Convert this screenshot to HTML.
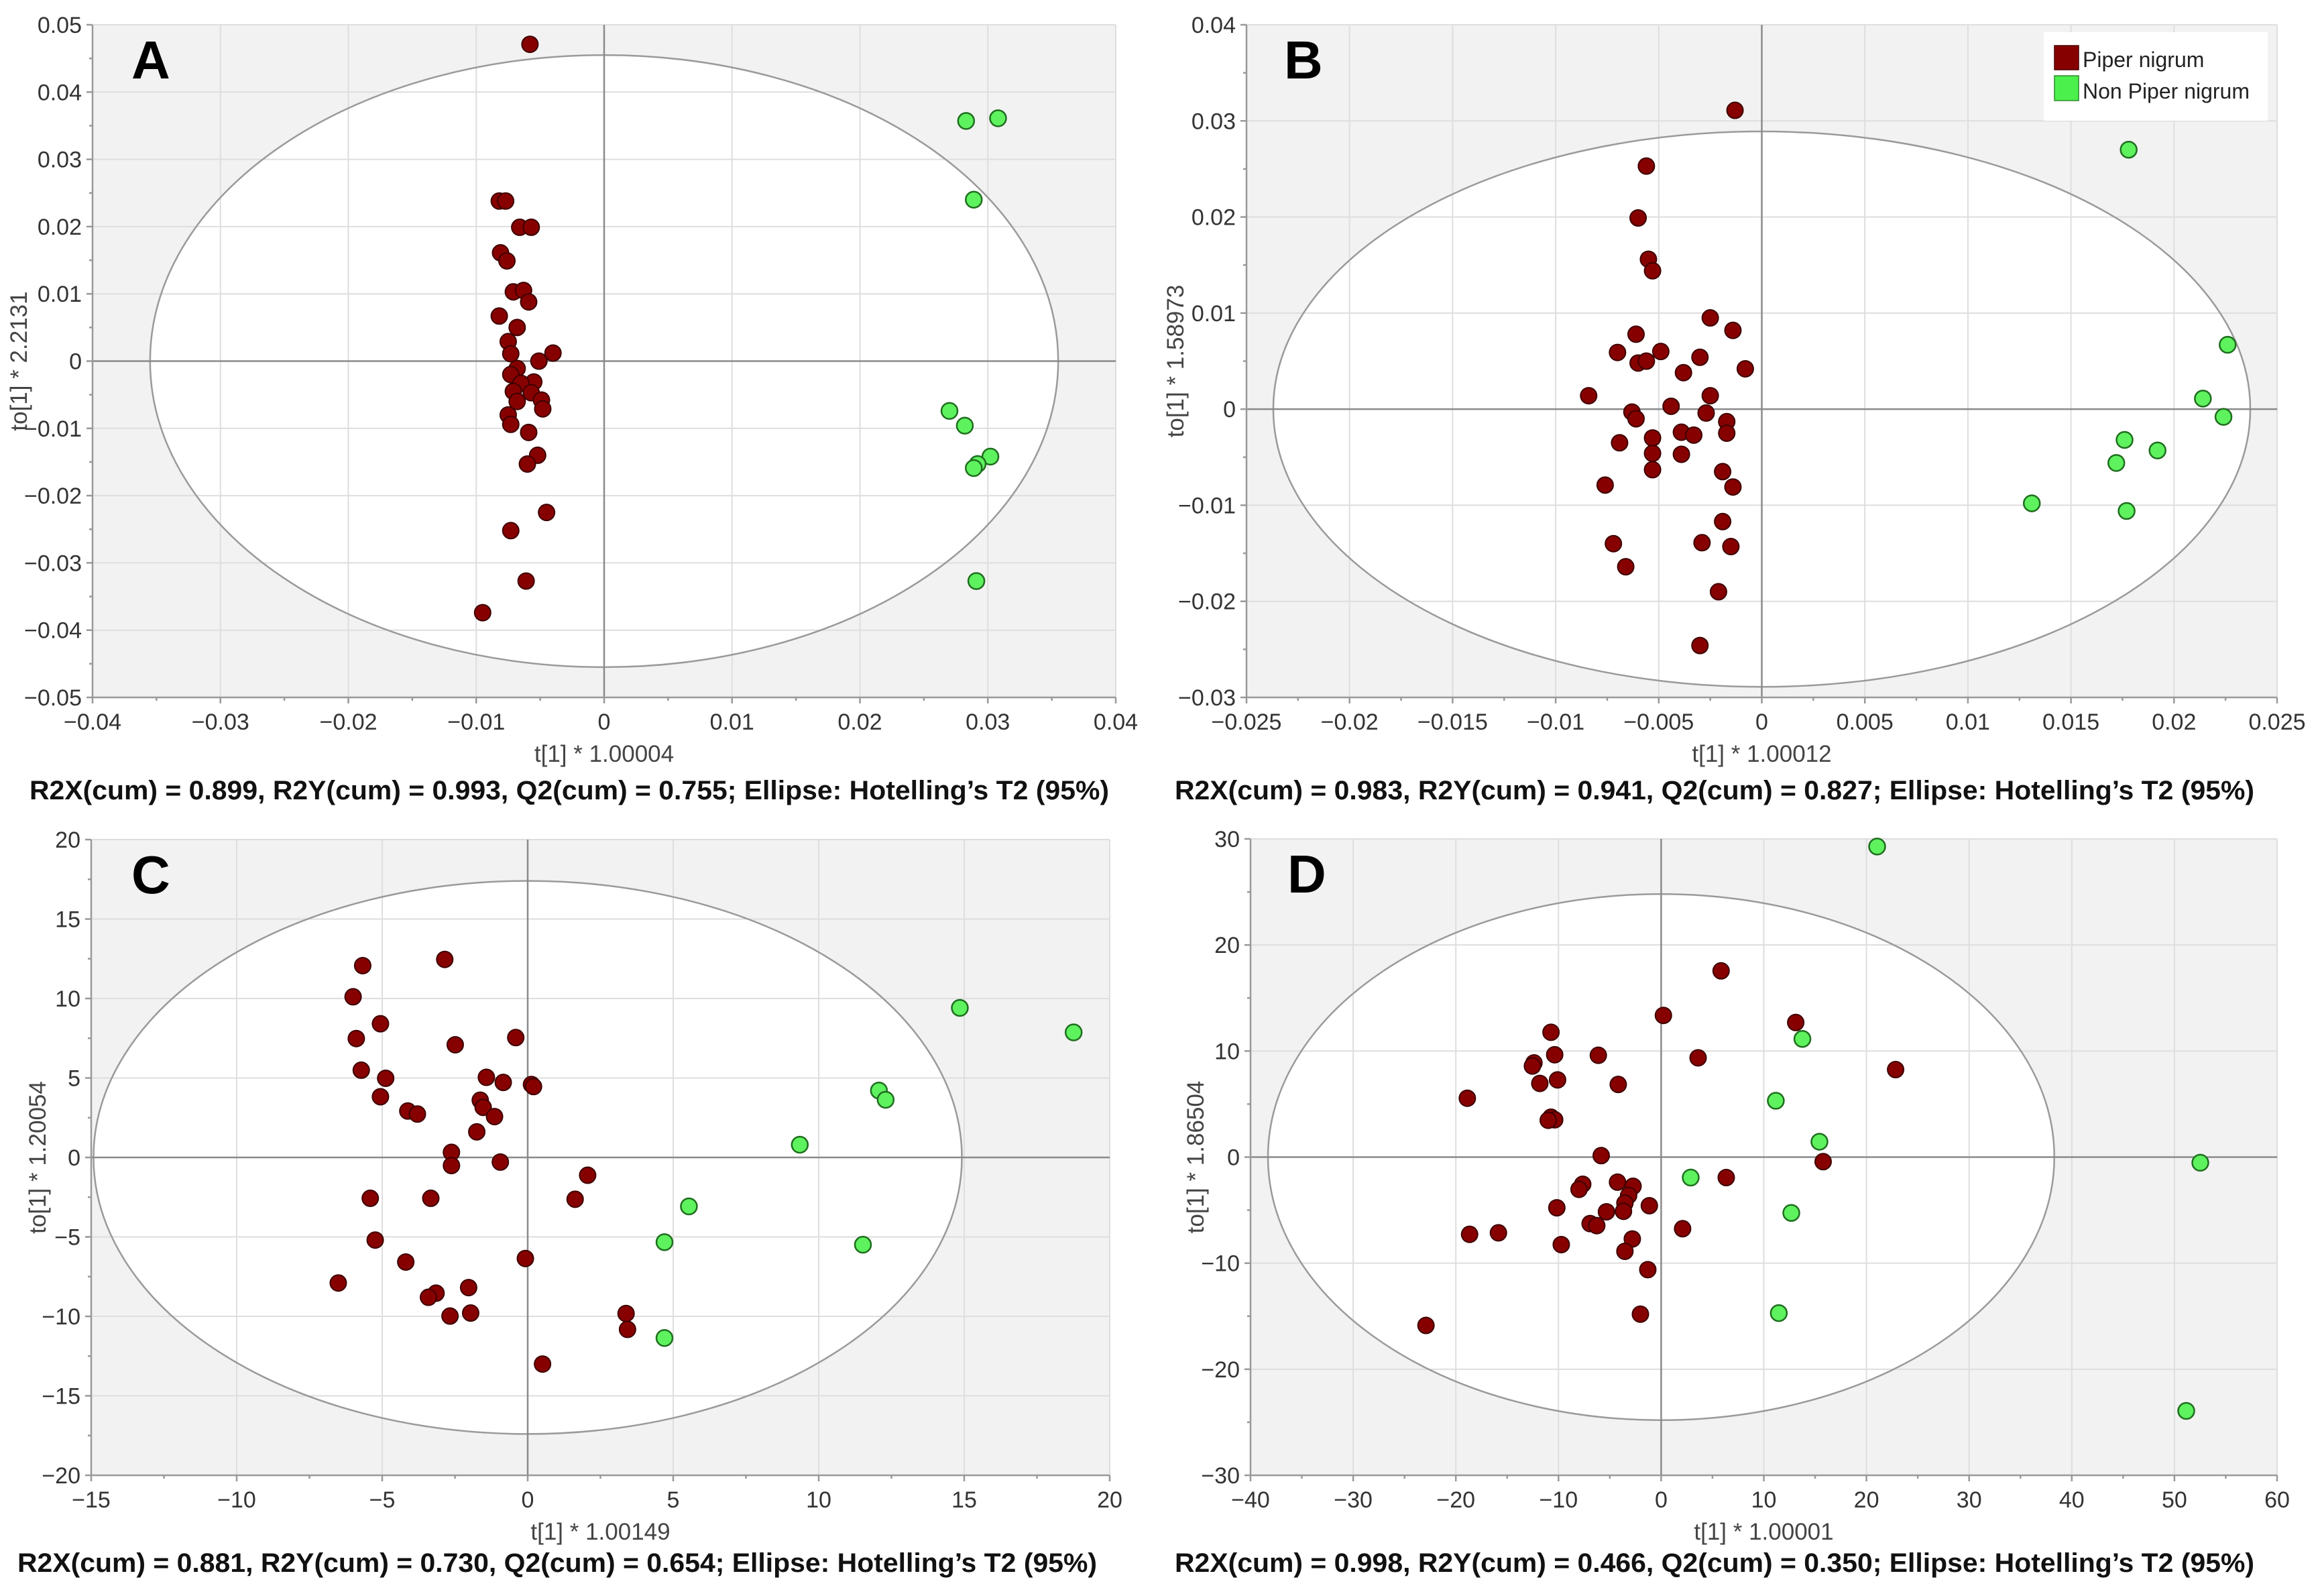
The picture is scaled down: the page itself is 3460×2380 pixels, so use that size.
<!DOCTYPE html>
<html><head><meta charset="utf-8"><style>
html,body{margin:0;padding:0;background:#fff;}
svg{display:block;}
text{font-family:"Liberation Sans",sans-serif;}
</style></head><body>
<svg id="fig" width="3460" height="2380" viewBox="0 0 3460 2380" xmlns="http://www.w3.org/2000/svg"></svg>
<script>
// ---------- Panel A data ----------
const aRedX=[-0.0058,-0.0082,-0.0077,-0.0066,-0.0057,-0.0081,-0.0076,-0.0071,-0.0063,-0.0059,-0.0082,-0.0068,-0.0075,-0.0073,-0.0040,-0.0051,-0.0068,-0.0073,-0.0055,-0.0065,-0.0071,-0.0057,-0.0068,-0.0049,-0.0048,-0.0075,-0.0073,-0.0059,-0.0052,-0.0060,-0.0045,-0.0073,-0.0061,-0.0095];
const aRedY=[0.0471,0.0238,0.0238,0.0199,0.0199,0.0161,0.0149,0.0103,0.0105,0.0088,0.0067,0.0050,0.0029,0.0011,0.0012,0.0000,-0.0011,-0.0020,-0.0031,-0.0033,-0.0045,-0.0047,-0.0060,-0.0058,-0.0071,-0.0080,-0.0094,-0.0106,-0.0140,-0.0153,-0.0225,-0.0252,-0.0327,-0.0374];
const aGreenX=[0.0283,0.0308,0.0289,0.0270,0.0282,0.0302,0.0292,0.0289,0.0291];
const aGreenY=[0.0357,0.0361,0.0240,-0.0074,-0.0096,-0.0142,-0.0153,-0.0159,-0.0327];
const aXTicks=[-0.04,-0.03,-0.02,-0.01,0,0.01,0.02,0.03,0.04];
const aXLabels=["\u22120.04","\u22120.03","\u22120.02","\u22120.01","0","0.01","0.02","0.03","0.04"];
const aYTicks=[-0.05,-0.04,-0.03,-0.02,-0.01,0,0.01,0.02,0.03,0.04,0.05];
const aYLabels=["\u22120.05","\u22120.04","\u22120.03","\u22120.02","\u22120.01","0","0.01","0.02","0.03","0.04","0.05"];
const aEllipse=[0.0355,0.0455];
// ---------- Panel B data ----------
const bRedX=[-0.0013,-0.0056,-0.0060,-0.0055,-0.0053,-0.0025,-0.0014,-0.0061,-0.0070,-0.0049,-0.0060,-0.0056,-0.0030,-0.0008,-0.0038,-0.0084,-0.0025,-0.0044,-0.0063,-0.0061,-0.0027,-0.0017,-0.0017,-0.0039,-0.0033,-0.0053,-0.0069,-0.0053,-0.0039,-0.0053,-0.0019,-0.0076,-0.0014,-0.0019,-0.0072,-0.0029,-0.0015,-0.0066,-0.0021,-0.0030];
const bRedY=[0.0311,0.0253,0.0199,0.0156,0.0144,0.0095,0.0082,0.0078,0.0059,0.0060,0.0048,0.0050,0.0054,0.0042,0.0038,0.0014,0.0014,0.0003,-0.0003,-0.0010,-0.0004,-0.0013,-0.0025,-0.0024,-0.0027,-0.0030,-0.0035,-0.0046,-0.0047,-0.0063,-0.0065,-0.0079,-0.0081,-0.0117,-0.0140,-0.0139,-0.0143,-0.0164,-0.0190,-0.0246];
const bGreenX=[0.0178,0.0226,0.0214,0.0224,0.0176,0.0192,0.0172,0.0131,0.0177];
const bGreenY=[0.0270,0.0067,0.0011,-0.0008,-0.0032,-0.0043,-0.0056,-0.0098,-0.0106];
const bXTicks=[-0.025,-0.02,-0.015,-0.01,-0.005,0,0.005,0.01,0.015,0.02,0.025];
const bXLabels=["\u22120.025","\u22120.02","\u22120.015","\u22120.01","\u22120.005","0","0.005","0.01","0.015","0.02","0.025"];
const bYTicks=[-0.03,-0.02,-0.01,0,0.01,0.02,0.03,0.04];
const bYLabels=["\u22120.03","\u22120.02","\u22120.01","0","0.01","0.02","0.03","0.04"];
const bEllipse=[0.0237,0.0289];
// ---------- Panel C data ----------
const cRedX=[-2.85,-5.67,-6.0,-5.06,-5.89,-0.41,-2.49,-5.72,-4.88,-1.42,-0.84,0.13,0.2,-5.06,-4.12,-3.79,-1.63,-1.53,-1.14,-1.75,-2.62,-2.62,-0.94,2.06,1.63,-5.41,-3.33,-5.24,-0.08,-4.19,-6.51,-2.03,-3.15,-3.41,-2.67,-1.96,3.38,3.43,0.51];
const cRedY=[12.46,12.07,10.11,8.41,7.48,7.54,7.09,5.49,4.98,5.04,4.72,4.59,4.46,3.82,2.92,2.73,3.6,3.15,2.57,1.61,0.32,-0.51,-0.29,-1.12,-2.63,-2.57,-2.57,-5.2,-6.36,-6.58,-7.9,-8.19,-8.54,-8.8,-9.98,-9.79,-9.82,-10.82,-13.0];
const cGreenX=[14.85,18.76,12.07,12.3,9.35,5.54,4.7,11.52,4.7];
const cGreenY=[9.41,7.87,4.21,3.63,0.8,-3.08,-5.33,-5.49,-11.36];
const cXTicks=[-15,-10,-5,0,5,10,15,20];
const cXLabels=["\u221215","\u221210","\u22125","0","5","10","15","20"];
const cYTicks=[-20,-15,-10,-5,0,5,10,15,20];
const cYLabels=["\u221220","\u221215","\u221210","\u22125","0","5","10","15","20"];
const cEllipse=[14.92,17.4];
// ---------- Panel D data ----------
const dRedX=[5.84,0.22,13.11,-10.73,-12.39,-12.54,-10.37,-6.12,3.6,22.84,-10.09,-11.82,-4.18,-18.88,-10.73,-10.37,-11.0,-5.84,15.78,-4.25,-2.74,-7.64,-8.0,6.34,-3.17,-3.53,-1.15,-10.16,-5.33,-3.67,-6.92,-6.27,2.09,-18.66,-15.85,-2.81,-9.73,-3.53,-1.3,-2.02,-22.91];
const dRedY=[17.56,13.36,12.69,11.77,8.88,8.59,9.65,9.6,9.36,8.25,7.28,6.95,6.85,5.55,3.76,3.52,3.47,0.14,-0.43,-2.36,-2.75,-2.56,-3.04,-1.93,-3.62,-4.34,-4.58,-4.78,-5.16,-5.11,-6.27,-6.46,-6.75,-7.28,-7.14,-7.72,-8.25,-8.88,-10.61,-14.81,-15.87];
const dGreenX=[21.04,13.76,11.17,15.42,52.52,2.88,12.68,11.46,51.15];
const dGreenY=[29.28,11.14,5.31,1.45,-0.53,-1.93,-5.26,-14.71,-23.93];
const dXTicks=[-40,-30,-20,-10,0,10,20,30,40,50,60];
const dXLabels=["\u221240","\u221230","\u221220","\u221210","0","10","20","30","40","50","60"];
const dYTicks=[-30,-20,-10,0,10,20,30];
const dYLabels=["\u221230","\u221220","\u221210","0","10","20","30"];
const dEllipse=[38.3,24.8];

const NS="http://www.w3.org/2000/svg";
const svg=document.getElementById('fig');
function mk(tag,attrs,parent,txt){const e=document.createElementNS(NS,tag);for(const k in attrs)e.setAttribute(k,attrs[k]);if(txt!==undefined)e.textContent=txt;(parent||svg).appendChild(e);return e;}

function panel(o){
  const g=mk('g',{});
  
  
  const xs=v=>o.x0+(v-o.xmin)/(o.xmax-o.xmin)*(o.x1-o.x0);
  const ys=v=>o.yb-(v-o.ymin)/(o.ymax-o.ymin)*(o.yb-o.yt);
  const bg=mk('rect',{x:o.x0,y:o.yt,width:o.x1-o.x0,height:o.yb-o.yt,fill:'#f2f2f2'},g);
  
  
  const ef=mk('ellipse',{cx:xs(0),cy:ys(0),rx:xs(o.ell[0])-xs(0),ry:ys(0)-ys(o.ell[1]),fill:'#fff'},g);
  
  
  const grid=mk('g',{stroke:'#dedede','stroke-width':2},g);
  
  
  o.xt.forEach(v=>{if(v!==0)mk('line',{x1:xs(v),x2:xs(v),y1:o.yt,y2:o.yb},grid);});
  o.yt2.forEach(v=>{if(v!==0)mk('line',{x1:o.x0,x2:o.x1,y1:ys(v),y2:ys(v)},grid);});
  const es=mk('ellipse',{cx:xs(0),cy:ys(0),rx:xs(o.ell[0])-xs(0),ry:ys(0)-ys(o.ell[1]),fill:'none',stroke:'#9a9a9a','stroke-width':2.5},g);
  
  
  const z1=mk('line',{x1:xs(0),x2:xs(0),y1:o.yt,y2:o.yb,stroke:'#8a8a8a','stroke-width':2.5},g);
  
  
  const z2=mk('line',{x1:o.x0,x2:o.x1,y1:ys(0),y2:ys(0),stroke:'#8a8a8a','stroke-width':2.5},g);
  
  
  const ax=mk('g',{stroke:'#999','stroke-width':2.5},g);
  
  
  mk('line',{x1:o.x0,x2:o.x1,y1:o.yb,y2:o.yb},ax);
  mk('line',{x1:o.x0,x2:o.x0,y1:o.yt,y2:o.yb},ax);
  o.xt.forEach((v,i)=>{mk('line',{x1:xs(v),x2:xs(v),y1:o.yb,y2:o.yb+9},ax);
    if(i<o.xt.length-1){const m=(v+o.xt[i+1])/2;mk('line',{x1:xs(m),x2:xs(m),y1:o.yb,y2:o.yb+5},ax);}});
  o.yt2.forEach((v,i)=>{mk('line',{x1:o.x0-9,x2:o.x0,y1:ys(v),y2:ys(v)},ax);
    if(i<o.yt2.length-1){const m=(v+o.yt2[i+1])/2;mk('line',{x1:o.x0-5,x2:o.x0,y1:ys(m),y2:ys(m)},ax);}});
  o.xt.forEach((v,i)=>{const t=mk('text',{x:xs(v),y:o.yb+48,'text-anchor':'middle','font-size':34,fill:'#333'},g,o.xl[i]);
    
    });
  o.yt2.forEach((v,i)=>{const t=mk('text',{x:o.x0-16,y:ys(v)+12,'text-anchor':'end','font-size':34,fill:'#333'},g,o.yl[i]);
    
    });
  const xt=mk('text',{x:(o.x0+o.x1)/2,y:o.yb+96,'text-anchor':'middle','font-size':35,fill:'#444'},g,o.xtitle);
  
  
  const yc=(o.yt+o.yb)/2;
  const yt=mk('text',{x:o.ytx,y:yc,'text-anchor':'middle','font-size':35,fill:'#444',transform:'rotate(-90 '+o.ytx+' '+yc+')'},g,o.ytitle);
  
  
  const lt=mk('text',{x:o.lx,y:o.yt+80,'font-size':80,'font-weight':'bold',fill:'#000'},g,o.id);
  
  
  const pts=mk('g',{},g);
  
  
  o.rx.forEach((v,i)=>{const c=mk('circle',{cx:xs(v),cy:ys(o.ry[i]),r:12,fill:'#870000',stroke:'#3d0000','stroke-width':2},pts);
    
    });
  o.gx.forEach((v,i)=>{const c=mk('circle',{cx:xs(v),cy:ys(o.gy[i]),r:12,fill:'#5ef25e',stroke:'#1f6e1f','stroke-width':2.5},pts);
    
    });
  const cap=mk('text',{x:o.capx,y:o.capy,'font-size':40,'font-weight':'bold',fill:'#111',textLength:1610,lengthAdjust:'spacingAndGlyphs'},g,o.cap);
  
  
}

panel({id:'A',x0:138,x1:1664,yt:37,yb:1040,xmin:-0.04,xmax:0.04,ymin:-0.05,ymax:0.05,xt:aXTicks,xl:aXLabels,yt2:aYTicks,yl:aYLabels,ell:aEllipse,
  rx:aRedX,ry:aRedY,gx:aGreenX,gy:aGreenY,xtitle:'t[1] * 1.00004',ytitle:'to[1] * 2.2131',ytx:40,lx:196,
  cap:'R2X(cum) = 0.899, R2Y(cum) = 0.993, Q2(cum) = 0.755; Ellipse: Hotelling\u2019s T2 (95%)',capx:44,capy:1192});
panel({id:'B',x0:1859,x1:3396,yt:37,yb:1040,xmin:-0.025,xmax:0.025,ymin:-0.03,ymax:0.04,xt:bXTicks,xl:bXLabels,yt2:bYTicks,yl:bYLabels,ell:bEllipse,
  rx:bRedX,ry:bRedY,gx:bGreenX,gy:bGreenY,xtitle:'t[1] * 1.00012',ytitle:'to[1] * 1.58973',ytx:1765,lx:1915,
  cap:'R2X(cum) = 0.983, R2Y(cum) = 0.941, Q2(cum) = 0.827; Ellipse: Hotelling\u2019s T2 (95%)',capx:1752,capy:1192});
panel({id:'C',x0:136,x1:1655,yt:1252,yb:2200,xmin:-15,xmax:20,ymin:-20,ymax:20,xt:cXTicks,xl:cXLabels,yt2:cYTicks,yl:cYLabels,ell:cEllipse,
  rx:cRedX,ry:cRedY,gx:cGreenX,gy:cGreenY,xtitle:'t[1] * 1.00149',ytitle:'to[1] * 1.20054',ytx:68,lx:196,
  cap:'R2X(cum) = 0.881, R2Y(cum) = 0.730, Q2(cum) = 0.654; Ellipse: Hotelling\u2019s T2 (95%)',capx:26,capy:2344});
panel({id:'D',x0:1865,x1:3396,yt:1251,yb:2200,xmin:-40,xmax:60,ymin:-30,ymax:30,xt:dXTicks,xl:dXLabels,yt2:dYTicks,yl:dYLabels,ell:dEllipse,
  rx:dRedX,ry:dRedY,gx:dGreenX,gy:dGreenY,xtitle:'t[1] * 1.00001',ytitle:'to[1] * 1.86504',ytx:1795,lx:1920,
  cap:'R2X(cum) = 0.998, R2Y(cum) = 0.466, Q2(cum) = 0.350; Ellipse: Hotelling\u2019s T2 (95%)',capx:1752,capy:2344});

const lg=mk('g',{});


mk('rect',{x:3048,y:48,width:334,height:132,fill:'#fff'},lg);
const l1=mk('rect',{x:3064,y:68,width:36,height:36,fill:'#870000',stroke:'#4a0000','stroke-width':1.5},lg);


const l2=mk('rect',{x:3064,y:113,width:36,height:37,fill:'#4cf04c',stroke:'#2a8a2a','stroke-width':1.5},lg);


const t1=mk('text',{x:3106,y:100,'font-size':32,fill:'#222'},lg,'Piper nigrum');


const t2=mk('text',{x:3106,y:147,'font-size':32,fill:'#222'},lg,'Non Piper nigrum');


</script>
</body></html>
